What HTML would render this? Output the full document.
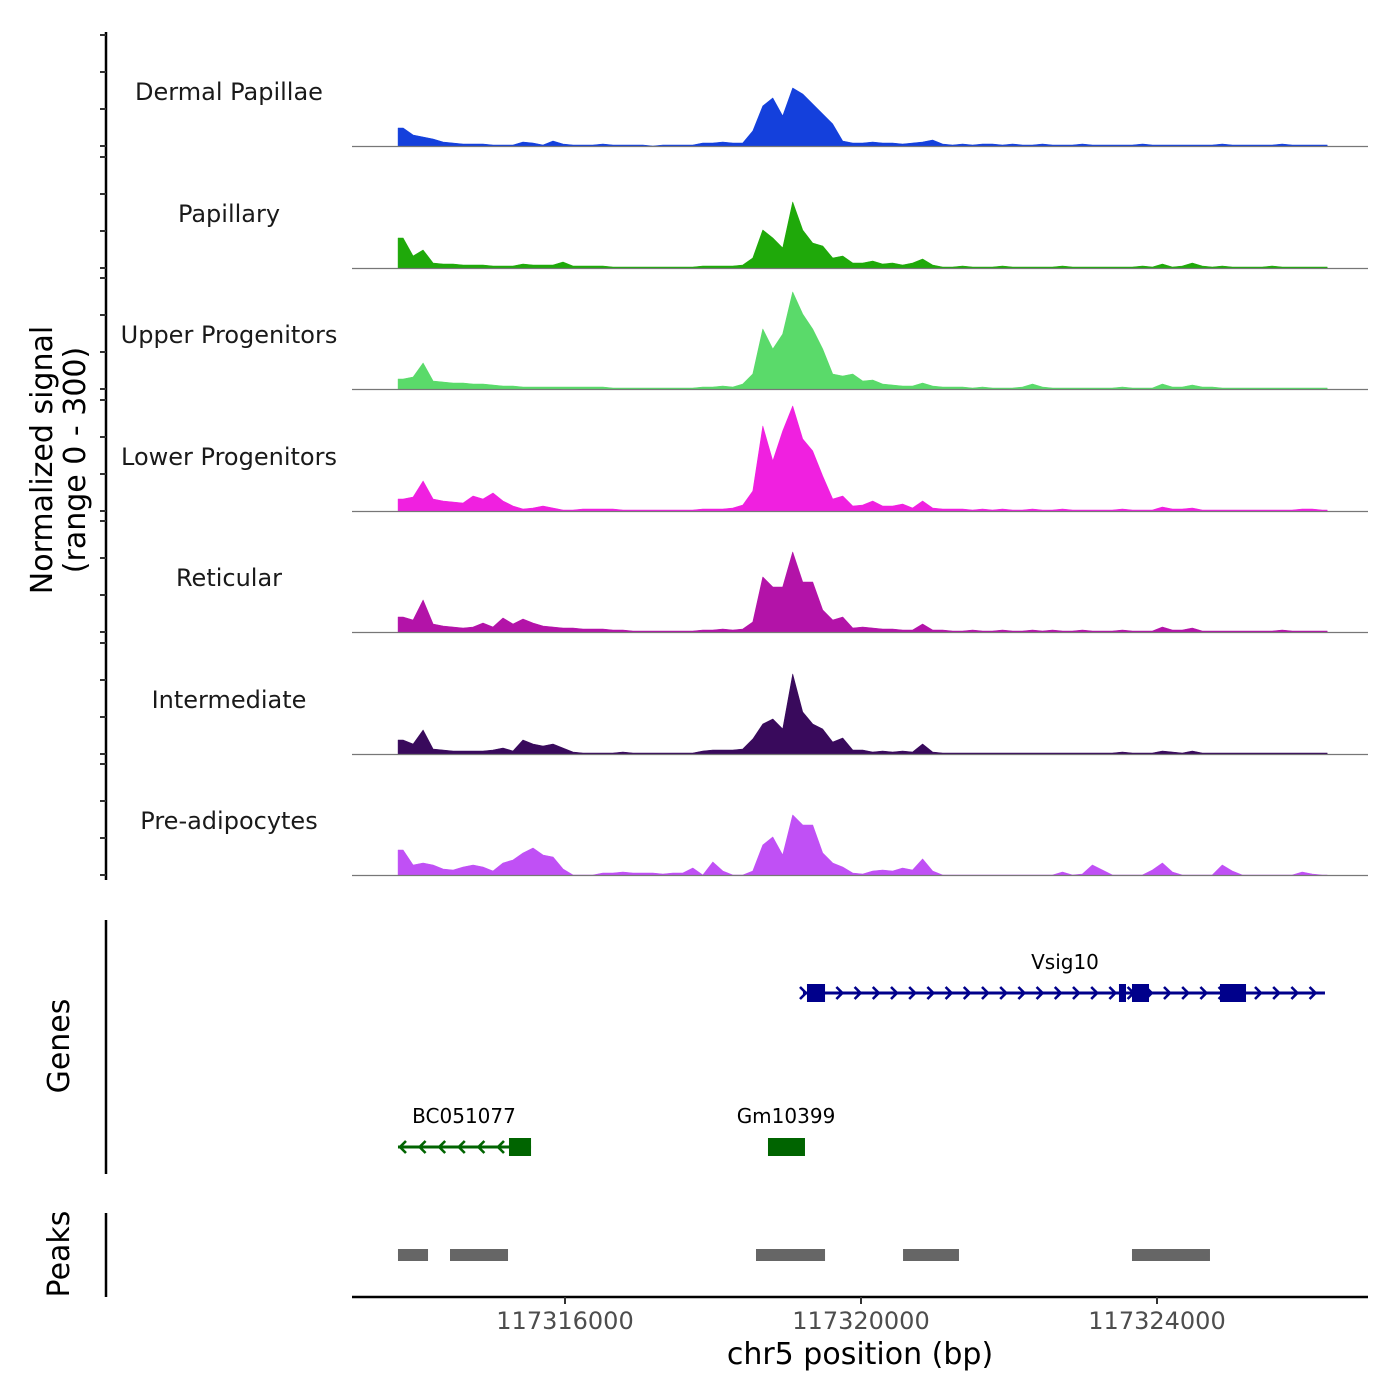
<!DOCTYPE html>
<html><head><meta charset="utf-8">
<style>
html,body{margin:0;padding:0;background:#fff;}
svg{display:block;font-family:"DejaVu Sans","Liberation Sans",sans-serif;}
</style></head>
<body>
<svg id="chart" width="1400" height="1400" viewBox="0 0 1400 1400" xmlns="http://www.w3.org/2000/svg">
</svg>
<script>
// ---- data ----
const trackNames = ["Dermal Papillae","Papillary","Upper Progenitors","Lower Progenitors","Reticular","Intermediate","Pre-adipocytes"];
const trackColors = ["#1440dc","#1fa90a","#5ada6a","#f020e0","#b313a8","#390a5c","#c050f5"];
const binStart = 117313745;
const binSize = 135;
const dermalPapillae = [18,11,9,7,4,3,2,2,2,1, 1,1,4,3,1,5,2,1,1,1, 2,1,1,1,1,0,1,1,1,1, 3,3,4,3,3,15,40,48,30,58, 52,42,32,22,5,3,3,4,3,3, 2,3,4,6,2,1,2,1,2,2, 1,2,1,1,2,1,1,1,2,1, 1,1,1,1,2,1,1,1,1,1, 1,1,2,1,1,1,1,1,2,1, 1,1,1];
const papillary = [30,12,18,5,4,4,3,3,3,2, 2,2,4,3,3,3,6,2,2,2, 2,1,1,1,1,1,1,1,1,1, 2,2,2,2,3,10,38,30,20,66, 38,25,22,10,12,5,5,7,4,5, 3,5,9,3,1,1,2,1,1,1, 2,1,1,1,1,1,2,1,1,1, 1,1,1,1,2,1,4,1,2,5, 2,1,2,1,1,1,1,2,1,1, 1,1,1];
const upperProgenitors = [10,12,26,8,7,6,6,5,5,4, 3,3,2,2,2,2,2,2,2,2, 2,1,1,1,1,1,1,1,1,1, 2,2,3,2,5,15,60,40,55,97, 75,60,40,15,13,15,8,9,5,4, 3,3,6,3,2,2,2,1,2,1, 1,1,2,5,2,1,1,1,1,1, 1,1,2,1,1,1,5,2,2,4, 2,2,1,1,1,1,1,1,1,1, 1,1,1];
const lowerProgenitors = [12,14,30,12,10,9,8,15,12,18, 10,5,2,3,5,3,1,1,2,2, 2,2,1,1,1,1,1,1,1,1, 2,2,2,3,6,20,85,50,80,105, 72,60,35,12,15,5,6,10,5,5, 7,3,10,3,2,2,2,1,2,1, 2,1,1,2,1,1,2,1,1,1, 1,1,2,1,1,1,4,2,2,3, 1,1,1,1,1,1,1,1,1,1, 2,2,1];
const reticular = [15,12,32,8,6,5,4,5,9,5, 14,8,13,9,6,5,4,4,3,3, 3,2,2,1,1,1,1,1,1,1, 2,2,3,2,3,10,55,45,45,80, 50,50,22,12,15,4,5,4,3,3, 2,2,8,2,2,1,1,2,1,1, 2,1,1,2,1,2,1,1,2,1, 1,1,2,1,1,1,5,2,2,4, 1,1,1,1,1,1,1,1,2,1, 1,1,1];
const intermediate = [14,10,24,5,4,3,3,3,3,4, 6,3,14,10,8,10,6,2,1,1, 1,1,2,1,1,1,1,1,1,1, 3,4,4,4,5,15,30,35,25,80, 42,30,25,12,16,4,4,2,3,2, 3,2,10,2,1,1,1,1,1,1, 1,1,1,1,1,1,1,1,1,1, 1,1,2,1,1,1,3,2,1,3, 1,1,1,1,1,1,1,1,1,1, 1,1,1];
const preAdipocytes = [25,10,12,10,6,5,8,10,8,4, 12,15,22,27,20,18,6,0,0,0, 2,2,3,2,2,2,1,2,2,7, 0,13,4,0,0,4,30,38,20,60, 50,50,22,12,8,2,1,4,5,4, 7,5,16,4,0,0,0,0,0,0, 0,0,0,0,0,0,3,0,1,10, 5,0,0,0,0,5,12,3,0,0, 0,0,10,4,0,0,0,0,0,0, 3,1,0];
const xTicks = [117316000,117320000,117324000];
const xTickLabels = ["117316000","117320000","117324000"];
const yTicks = [0,100,200,300];
const vsig10Line = [117319216,117326270];
const vsig10Exons = [[117319270,117319514],[117323486,117323581],[117323662,117323892],[117324851,117325203]];
const bc051077Line = [117313743,117315541];
const bc051077Exons = [[117315243,117315541]];
const gm10399Exons = [[117318743,117319243]];
const peakStarts = [117313743,117314446,117318581,117320568,117323662];
const peakEnds = [117314149,117315230,117319514,117321324,117324716];

// ---- layout ----
const series = [dermalPapillae,papillary,upperProgenitors,lowerProgenitors,reticular,intermediate,preAdipocytes];
const baselines = [146,268,389,511,632,754,875];
const plotL = 352, plotR = 1368;
const PXMAX = 111;
const YMAX = 111;
function xs(bp){ return 565 + (bp-117316000)*(861-565)/4000; }
function ys(v,base){ return base - v/YMAX*PXMAX; }
const NS="http://www.w3.org/2000/svg";
const svg=document.getElementById('chart');
function mk(tag,attrs,parent){const e=document.createElementNS(NS,tag);for(const k in attrs)e.setAttribute(k,attrs[k]);(parent||svg).appendChild(e);return e;}

const yt=mk('text',{x:0,y:0,transform:'translate(52,460) rotate(-90)','text-anchor':'middle','font-size':'30',fill:'#000'});


const t1=mk('tspan',{x:0,dy:0},yt);t1.textContent='Normalized signal';
const t2=mk('tspan',{x:0,dy:33},yt);t2.textContent='(range 0 - 300)';

const ax=mk('line',{x1:106,y1:32,x2:106,y2:880,stroke:'#000','stroke-width':2.5});



series.forEach((vals,ti)=>{
  const base=baselines[ti];
  const g=mk('g',{});
  
  
  yTicks.forEach(t=>{
    const tk=mk('line',{x1:100,x2:106,y1:ys(t/300*YMAX,base),y2:ys(t/300*YMAX,base),stroke:'#333','stroke-width':2},g);
    
    
  });
  const xStart=xs(binStart), xEnd=xs(binStart+vals.length*binSize);
  let d='M'+xStart.toFixed(1)+','+base+' L'+xStart.toFixed(1)+','+ys(vals[0],base).toFixed(1);
  vals.forEach((v,i)=>{
    const xc=xs(binStart+(i+0.5)*binSize);
    d+=' L'+xc.toFixed(1)+','+ys(v,base).toFixed(1);
  });
  d+=' L'+xEnd.toFixed(1)+','+ys(vals[vals.length-1],base).toFixed(1)+' L'+xEnd.toFixed(1)+','+base+' Z';
  const p=mk('path',{d:d,fill:trackColors[ti],stroke:trackColors[ti],'stroke-width':0.6,'stroke-linejoin':'round'},g);
  
  
  const bl=mk('line',{x1:plotL,x2:plotR,y1:base+0.5,y2:base+0.5,stroke:'#777','stroke-width':1.2},g);
  
  
  const lb=mk('text',{x:229,y:base-46,'text-anchor':'middle','font-size':'24',fill:'#1a1a1a'},g);
  
  
  lb.textContent=trackNames[ti];
});

const ga=mk('line',{x1:106,y1:920,x2:106,y2:1174,stroke:'#000','stroke-width':2.5});


const gt=mk('text',{x:0,y:0,transform:'translate(69,1046) rotate(-90)','text-anchor':'middle','font-size':'30',fill:'#000'});


gt.textContent='Genes';

function gene(name,line,exons,y,color,dir,labelX){
  const g=mk('g',{});
  
  
  if(line){
    const x1=xs(line[0]),x2=xs(line[1]);
    mk('line',{x1:x1,x2:x2,y1:y,y2:y,stroke:color,'stroke-width':3},g);
    const step=dir>0?18.2:19.6;
    for(let x=(dir>0?x1+3:x1+2); x<=x2-1; x+=step){
      const tip=x, back=x-dir*6;
      const c=mk('polyline',{points:back+','+(y-6)+' '+tip+','+y+' '+back+','+(y+6),fill:'none',stroke:color,'stroke-width':2.6},g);
      
      
    }
  }
  exons.forEach(e=>{
    const r=mk('rect',{x:xs(e[0]),y:y-9,width:xs(e[1])-xs(e[0]),height:18,fill:color},g);
    
    
  });
  const t=mk('text',{x:labelX,y:y-24,'text-anchor':'middle','font-size':'20',fill:'#000'},g);
  
  
  t.textContent=name;
}
gene('Vsig10',vsig10Line,vsig10Exons,993,'#00008b',1,1065);
gene('BC051077',bc051077Line,bc051077Exons,1147,'#006400',-1,464);
gene('Gm10399',null,gm10399Exons,1147,'#006400',1,786);

const pa=mk('line',{x1:106,y1:1213,x2:106,y2:1297,stroke:'#000','stroke-width':2.5});


const pt=mk('text',{x:0,y:0,transform:'translate(69,1254) rotate(-90)','text-anchor':'middle','font-size':'30',fill:'#000'});


pt.textContent='Peaks';
peakStarts.forEach((s,i)=>{
  const r=mk('rect',{x:xs(s),y:1249,width:xs(peakEnds[i])-xs(s),height:12,fill:'#666'});
  
  
});

const xa=mk('line',{x1:plotL,x2:plotR,y1:1297,y2:1297,stroke:'#000','stroke-width':2.5});


xTicks.forEach((t,i)=>{
  const tk=mk('line',{x1:xs(t),x2:xs(t),y1:1297,y2:1304,stroke:'#333','stroke-width':2});
  
  
  const tl=mk('text',{x:xs(t),y:1329,'text-anchor':'middle','font-size':'24',fill:'#4d4d4d'});
  
  
  tl.textContent=xTickLabels[i];
});
const xt=mk('text',{x:860,y:1364,'text-anchor':'middle','font-size':'30',fill:'#000'});


xt.textContent='chr5 position (bp)';
</script>
</body></html>
